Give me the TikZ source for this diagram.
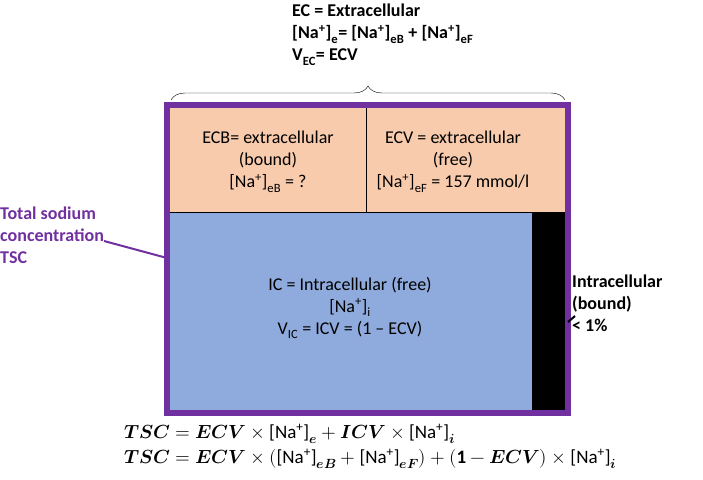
\documentclass[tikz,border=0pt]{standalone}
\usepackage{fontspec}
\usepackage{amsmath}
\usepackage{unicode-math}
\setmainfont{Carlito}
\usetikzlibrary{decorations.pathreplacing}
\definecolor{pur}{RGB}{112,48,160}
\definecolor{peach}{RGB}{248,203,173}
\definecolor{blu}{RGB}{143,170,220}
\tikzset{lbl/.style={font=\fontsize{18}{22}\selectfont,align=center},
bold/.style={font=\fontsize{18}{22}\selectfont\bfseries,align=left}}
\newcommand{\Na}{[Na\textsuperscript{+}]}
\begin{document}
\begin{tikzpicture}[x=1pt,y=-1pt]
\useasboundingbox (0,0) rectangle (703,479);
\fill[blu] (170,212) rectangle (565,410);
\fill[peach] (170,107) rectangle (565,212);
\draw[black,thick] (170,212) -- (565,212);
\draw[black,thick] (366,107) -- (366,212);
\fill[black] (532,212) rectangle (566,410);
\coordinate (barR) at (568,322);
\draw[pur,line width=6pt] (167,105) rectangle (568,413);
\node[lbl] (ecb) at (268,162) {ECB= extracellular\\(bound)\\\Na$_{\text{eB}}$ = ?};
\node[lbl] (ecv) at (453,162) {ECV = extracellular\\(free)\\\Na$_{\text{eF}}$ = 157 mmol/l};
\node[lbl] (ic) at (350,308) {IC = Intracellular (free)\\\Na$_{\text{i}}$\\V$_{\text{IC}}$ = ICV = (1 -- ECV)};
\node[bold,anchor=north west,inner sep=0pt] (ec) at (292,4) {EC = Extracellular\\\Na$_{\text{e}}$= \Na$_{\text{eB}}$ + \Na$_{\text{eF}}$\\V$_{\text{EC}}$= ECV};
\draw[decorate,decoration={brace,amplitude=14pt,aspect=0.5}] (171,100) -- (565,100);
\node[bold,anchor=north west,text=pur,inner sep=0pt] (tsc) at (0,207) {Total sodium\\concentration\\TSC};
\coordinate (tscE) at (104,241);
\draw[pur,line width=2pt] (tscE) -- (167,258);
\node[bold,anchor=north west,inner sep=0pt] (ib) at (572,275) {Intracellular\\(bound)\\< 1\%};
\draw[line width=2pt] (barR) -- (575,316);
\node[anchor=north west,font=\fontsize{19}{25}\selectfont,align=left,inner sep=0pt] (eq) at (124,424)
{$\mathbfit{TSC} = \mathbfit{ECV}\times\text{\Na}_{\mathbfit{e}} + \mathbfit{ICV}\times\text{\Na}_{\mathbfit{i}}$\\
$\mathbfit{TSC} = \mathbfit{ECV}\times(\text{\Na}_{\mathbfit{eB}} + \text{\Na}_{\mathbfit{eF}}) + (\mathbf{1}-\mathbfit{ECV})\times\text{\Na}_{\mathbfit{i}}$};
\end{tikzpicture}
\end{document}
